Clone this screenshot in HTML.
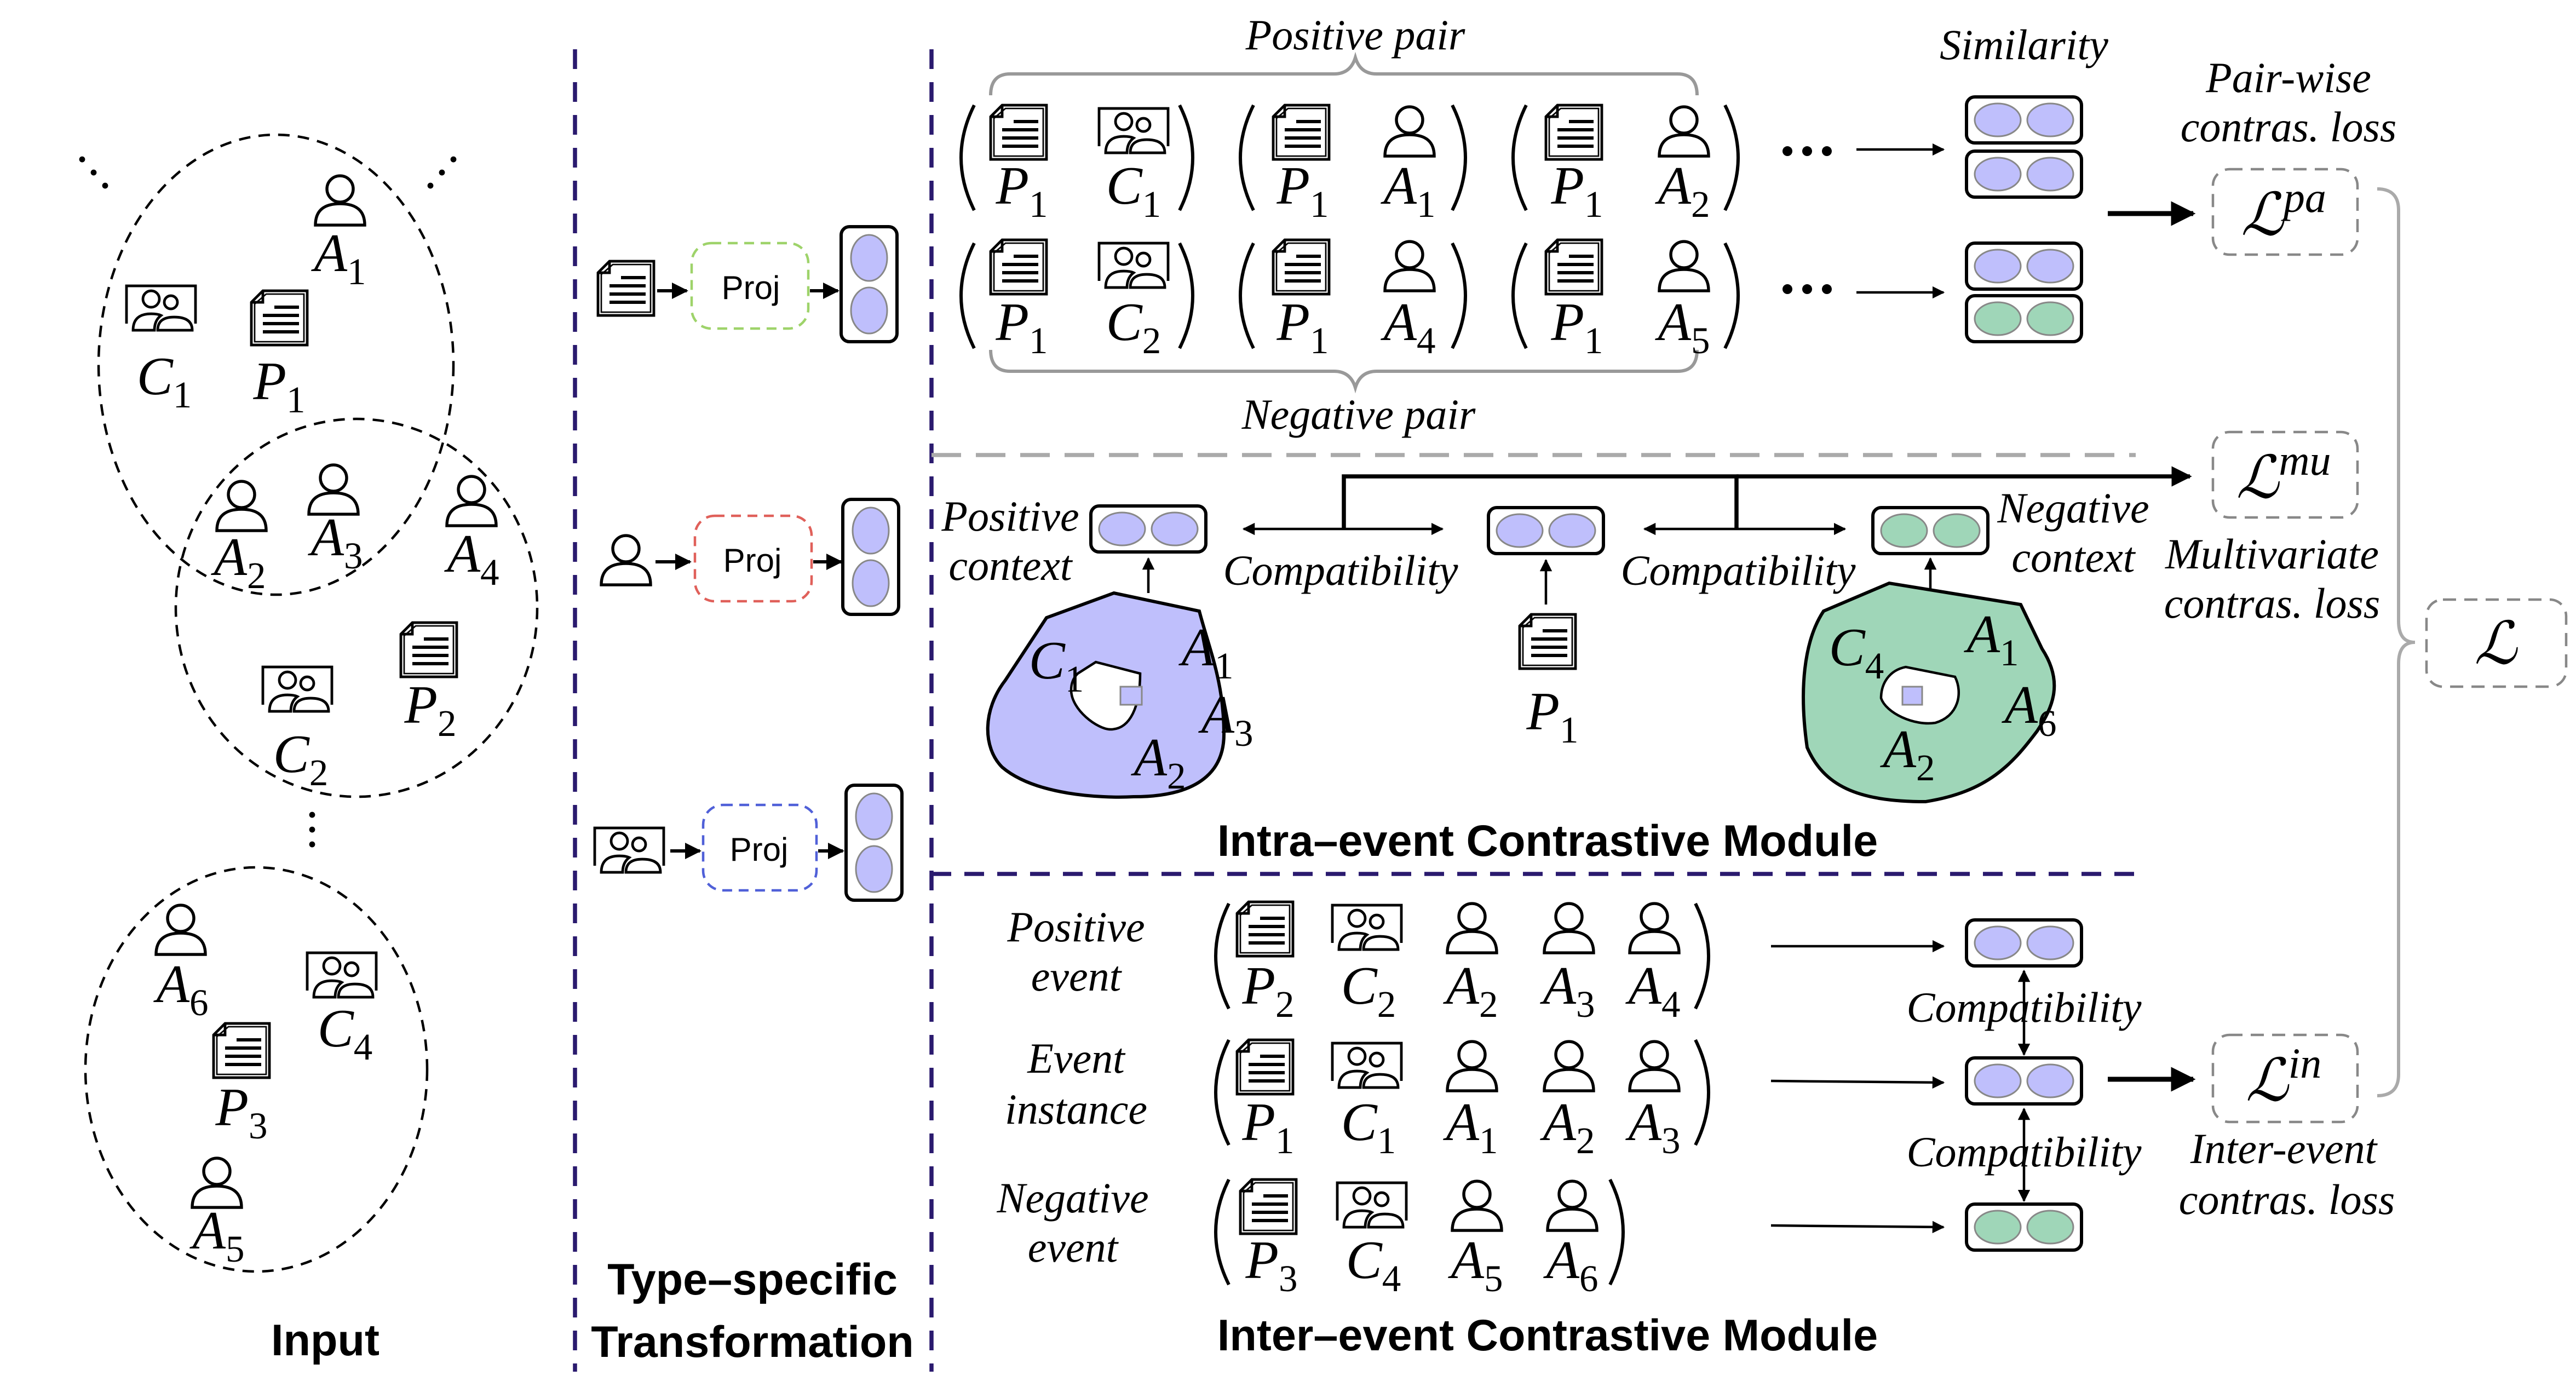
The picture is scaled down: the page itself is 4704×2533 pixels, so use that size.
<!DOCTYPE html>
<html><head><meta charset="utf-8"><style>
html,body{margin:0;padding:0;background:#fff;}
svg{display:block;}
.l{font-family:"Liberation Serif",serif;font-style:italic;font-size:33px;fill:#000;text-anchor:middle;}
.s{font-style:normal;font-size:23px;}
.t{font-family:"Liberation Serif",serif;font-style:italic;font-size:26px;fill:#000;text-anchor:middle;}
.b{font-family:"Liberation Sans",sans-serif;font-size:27px;font-weight:bold;fill:#000;text-anchor:middle;}
.pj{font-family:"Liberation Sans",sans-serif;font-size:20px;text-anchor:middle;}
.pr{fill:none;stroke:#000;stroke-width:2;}
</style></head><body>
<svg width="4704" height="2533" viewBox="0 0 1568 844.3" xmlns="http://www.w3.org/2000/svg">
<defs>
<g id="doc" fill="none" stroke="#000" stroke-width="1.6">
<path d="M-10,-16 H17 V17 H-17 V-9 Z"/><path d="M-8,-14 H15 V15 H-15 V-8 Z" stroke-width="0.9"/>
<path d="M-17,-9 L-10,-9 L-10,-16" /><path d="M-3,-6 H12 M-10,-1 H12 M-10,4 H12 M-10,9 H12" stroke-width="2"/>
</g>
<g id="per" fill="none" stroke="#000" stroke-width="1.8">
<circle cx="0" cy="-7" r="8"/><path d="M-15,15 Q-15,2 0,2 Q15,2 15,15 Z"/>
</g>
<g id="grp" fill="none" stroke="#000" stroke-width="1.6">
<path d="M-21,9 V-14 H21 V9"/><circle cx="-6" cy="-6" r="5"/><circle cx="6" cy="-4" r="4"/>
<path d="M-17,13 Q-17,3 -6,3 Q-2,3 0,4 Q-4,7 -4,13 Z"/><path d="M-2,13 Q-2,5 8,5 Q19,5 19,13 Z"/>
</g>
<g id="vp"><rect x="-35" y="-14" width="70" height="28" rx="5" fill="#fff" stroke="#000" stroke-width="2"/><ellipse cx="-16" cy="0" rx="14" ry="10" fill="#bfbffc" stroke="#888" stroke-width="1"/><ellipse cx="16" cy="0" rx="14" ry="10" fill="#bfbffc" stroke="#888" stroke-width="1"/></g>
<g id="vg"><rect x="-35" y="-14" width="70" height="28" rx="5" fill="#fff" stroke="#000" stroke-width="2"/><ellipse cx="-16" cy="0" rx="14" ry="10" fill="#9fd6b8" stroke="#888" stroke-width="1"/><ellipse cx="16" cy="0" rx="14" ry="10" fill="#9fd6b8" stroke="#888" stroke-width="1"/></g>
<g id="vv"><rect x="-17" y="-35" width="34" height="70" rx="5" fill="#fff" stroke="#000" stroke-width="2"/><ellipse cx="0" cy="-16" rx="11" ry="14" fill="#bfbffc" stroke="#888" stroke-width="1"/><ellipse cx="0" cy="16" rx="11" ry="14" fill="#bfbffc" stroke="#888" stroke-width="1"/></g>
<path id="lp" d="M8,-32 Q-8,0 8,32" class="pr"/>
<path id="rp" d="M-8,-32 Q8,0 -8,32" class="pr"/>
<marker id="arb" viewBox="0 0 10 10" refX="9" refY="5" markerWidth="5" markerHeight="5" orient="auto-start-reverse"><path d="M0,0 L10,5 L0,10 Z" fill="#000"/></marker>
</defs>

<g stroke="#2a1a6e" stroke-width="2.5" stroke-dasharray="12,8" fill="none">
<line x1="350" y1="30" x2="350" y2="835"/><line x1="567" y1="30" x2="567" y2="835"/>
<line x1="567" y1="532" x2="1300" y2="532"/></g>
<line x1="567" y1="277" x2="1300" y2="277" stroke="#aaa" stroke-width="2.5" stroke-dasharray="18,9"/>

<g fill="none" stroke="#000" stroke-width="1.5" stroke-dasharray="7,5">
<ellipse cx="168" cy="222" rx="108" ry="140"/><ellipse cx="217" cy="370" rx="110" ry="115"/><ellipse cx="156" cy="651" rx="104" ry="123"/></g>
<g fill="#000"><circle cx="50" cy="97" r="1.8"/><circle cx="57" cy="105" r="1.8"/><circle cx="64" cy="113" r="1.8"/>
<circle cx="262" cy="113" r="1.8"/><circle cx="269" cy="105" r="1.8"/><circle cx="276" cy="97" r="1.8"/>
<circle cx="190" cy="496" r="1.8"/><circle cx="190" cy="505" r="1.8"/><circle cx="190" cy="514" r="1.8"/></g>
<use href="#per" x="207" y="122"/><text x="207" y="165" class="l">A<tspan class="s" dy="8">1</tspan></text>
<use href="#grp" x="98" y="188"/><text x="100" y="240" class="l">C<tspan class="s" dy="8">1</tspan></text>
<use href="#doc" x="170" y="193"/><text x="170" y="243" class="l">P<tspan class="s" dy="8">1</tspan></text>
<use href="#per" x="147" y="308"/><text x="146" y="350" class="l">A<tspan class="s" dy="8">2</tspan></text>
<use href="#per" x="203" y="298"/><text x="205" y="338" class="l">A<tspan class="s" dy="8">3</tspan></text>
<use href="#per" x="287" y="305"/><text x="288" y="348" class="l">A<tspan class="s" dy="8">4</tspan></text>
<use href="#grp" x="181" y="420"/><text x="183" y="470" class="l">C<tspan class="s" dy="8">2</tspan></text>
<use href="#doc" x="261" y="395"/><text x="262" y="440" class="l">P<tspan class="s" dy="8">2</tspan></text>
<use href="#per" x="110" y="566"/><text x="111" y="610" class="l">A<tspan class="s" dy="8">6</tspan></text>
<use href="#grp" x="208" y="594"/><text x="210" y="637" class="l">C<tspan class="s" dy="8">4</tspan></text>
<use href="#doc" x="147" y="639"/><text x="147" y="685" class="l">P<tspan class="s" dy="8">3</tspan></text>
<use href="#per" x="132" y="720"/><text x="133" y="760" class="l">A<tspan class="s" dy="8">5</tspan></text>
<text x="198" y="825" class="b">Input</text>

<use href="#doc" x="381" y="175"/><line x1="400" y1="177" x2="418" y2="177" stroke="#000" stroke-width="2" marker-end="url(#arb)"/>
<rect x="421" y="148" width="71" height="52" rx="12" fill="none" stroke="#9ed36a" stroke-width="1.5" stroke-dasharray="6,4"/><text x="457" y="182" class="pj">Proj</text>
<line x1="493" y1="177" x2="510" y2="177" stroke="#000" stroke-width="2" marker-end="url(#arb)"/><use href="#vv" x="529" y="173"/>
<use href="#per" x="381" y="341"/><line x1="399" y1="342" x2="420" y2="342" stroke="#000" stroke-width="2" marker-end="url(#arb)"/>
<rect x="423" y="314" width="71" height="52" rx="12" fill="none" stroke="#e0605a" stroke-width="1.5" stroke-dasharray="6,4"/><text x="458" y="348" class="pj">Proj</text>
<line x1="495" y1="342" x2="512" y2="342" stroke="#000" stroke-width="2" marker-end="url(#arb)"/><use href="#vv" x="530" y="339"/>
<use href="#grp" x="383" y="518"/><line x1="408" y1="518" x2="426" y2="518" stroke="#000" stroke-width="2" marker-end="url(#arb)"/>
<rect x="428" y="490" width="69" height="52" rx="12" fill="none" stroke="#5060d8" stroke-width="1.5" stroke-dasharray="6,4"/><text x="462" y="524" class="pj">Proj</text>
<line x1="498" y1="518" x2="513" y2="518" stroke="#000" stroke-width="2" marker-end="url(#arb)"/><use href="#vv" x="532" y="513"/>
<text x="458" y="788" class="b">Type–specific</text><text x="458" y="826" class="b">Transformation</text>

<path d="M603,58 Q603,45 615,45 H812 Q822,45 825,35 Q828,45 838,45 H1021 Q1033,45 1033,58" fill="none" stroke="#999" stroke-width="2"/>
<path d="M603,213 Q603,226 615,226 H812 Q822,226 825,236 Q828,226 838,226 H1021 Q1033,226 1033,213" fill="none" stroke="#999" stroke-width="2"/>
<text x="825" y="30" class="t">Positive pair</text><text x="827" y="261" class="t">Negative pair</text>
<use href="#lp" x="585" y="96"/><use href="#rp" x="726" y="96"/><use href="#lp" x="755" y="96"/><use href="#rp" x="892" y="96"/><use href="#lp" x="921" y="96"/><use href="#rp" x="1058" y="96"/>
<use href="#lp" x="585" y="180"/><use href="#rp" x="726" y="180"/><use href="#lp" x="755" y="180"/><use href="#rp" x="892" y="180"/><use href="#lp" x="921" y="180"/><use href="#rp" x="1058" y="180"/>
<use href="#doc" x="620" y="80"/><text x="622" y="124" class="l">P<tspan class="s" dy="8">1</tspan></text>
<use href="#grp" x="690" y="80"/><text x="690" y="124" class="l">C<tspan class="s" dy="8">1</tspan></text>
<use href="#doc" x="792" y="80"/><text x="793" y="124" class="l">P<tspan class="s" dy="8">1</tspan></text>
<use href="#per" x="858" y="80"/><text x="858" y="124" class="l">A<tspan class="s" dy="8">1</tspan></text>
<use href="#doc" x="958" y="80"/><text x="960" y="124" class="l">P<tspan class="s" dy="8">1</tspan></text>
<use href="#per" x="1025" y="80"/><text x="1025" y="124" class="l">A<tspan class="s" dy="8">2</tspan></text>
<use href="#doc" x="620" y="162"/><text x="622" y="207" class="l">P<tspan class="s" dy="8">1</tspan></text>
<use href="#grp" x="690" y="162"/><text x="690" y="207" class="l">C<tspan class="s" dy="8">2</tspan></text>
<use href="#doc" x="792" y="162"/><text x="793" y="207" class="l">P<tspan class="s" dy="8">1</tspan></text>
<use href="#per" x="858" y="162"/><text x="858" y="207" class="l">A<tspan class="s" dy="8">4</tspan></text>
<use href="#doc" x="958" y="162"/><text x="960" y="207" class="l">P<tspan class="s" dy="8">1</tspan></text>
<use href="#per" x="1025" y="162"/><text x="1025" y="207" class="l">A<tspan class="s" dy="8">5</tspan></text>
<g fill="#000"><circle cx="1088" cy="92" r="3"/><circle cx="1100" cy="92" r="3"/><circle cx="1112" cy="92" r="3"/><circle cx="1088" cy="176" r="3"/><circle cx="1100" cy="176" r="3"/><circle cx="1112" cy="176" r="3"/></g>
<line x1="1130" y1="91" x2="1183" y2="91" stroke="#000" stroke-width="1.5" marker-end="url(#arb)"/>
<line x1="1130" y1="178" x2="1183" y2="178" stroke="#000" stroke-width="1.5" marker-end="url(#arb)"/>
<text x="1232" y="36" class="t">Similarity</text>
<use href="#vp" x="1232" y="73"/><use href="#vp" x="1232" y="106"/>
<use href="#vp" x="1232" y="162"/><use href="#vg" x="1232" y="194"/>
<text x="1393" y="56" class="t">Pair-wise</text><text x="1393" y="86" class="t">contras. loss</text>
<line x1="1283" y1="130" x2="1335" y2="130" stroke="#000" stroke-width="3" marker-end="url(#arb)"/>

<g fill="none" stroke="#888" stroke-width="1.5" stroke-dasharray="8,5">
<rect x="1347" y="103" width="88" height="52" rx="10"/><rect x="1347" y="263" width="88" height="52" rx="10"/><rect x="1347" y="630" width="88" height="53" rx="10"/><rect x="1477" y="365" width="85" height="53" rx="10"/></g>
<text x="1390" y="143" class="l" style="font-size:36px">ℒ<tspan dy="-14" style="font-size:26px">pa</tspan></text>
<text x="1390" y="303" class="l" style="font-size:36px">ℒ<tspan dy="-14" style="font-size:26px">mu</tspan></text>
<text x="1390" y="670" class="l" style="font-size:36px">ℒ<tspan dy="-14" style="font-size:26px">in</tspan></text>
<text x="1519" y="404" class="l" style="font-size:36px">ℒ</text>
<path d="M1447,115 Q1460,115 1460,128 V378 Q1460,391 1470,391 Q1460,391 1460,404 V654 Q1460,667 1447,667" fill="none" stroke="#aaa" stroke-width="2"/>

<polyline points="818,322 818,290 1057,290 1057,322" fill="none" stroke="#000" stroke-width="2.5"/>
<line x1="1057" y1="290" x2="1333" y2="290" stroke="#000" stroke-width="2.5" marker-end="url(#arb)"/>
<use href="#vp" x="699" y="322"/><use href="#vp" x="941" y="323"/><use href="#vg" x="1175" y="323"/>
<line x1="757" y1="322" x2="878" y2="322" stroke="#000" stroke-width="1.5" marker-start="url(#arb)" marker-end="url(#arb)"/>
<line x1="1001" y1="322" x2="1123" y2="322" stroke="#000" stroke-width="1.5" marker-start="url(#arb)" marker-end="url(#arb)"/>
<text x="615" y="323" class="t">Positive</text><text x="615" y="353" class="t">context</text>
<text x="816" y="356" class="t">Compatibility</text><text x="1058" y="356" class="t">Compatibility</text>
<text x="1262" y="318" class="t">Negative</text><text x="1262" y="348" class="t">context</text>
<text x="1383" y="346" class="t">Multivariate</text><text x="1383" y="376" class="t">contras. loss</text>
<line x1="699" y1="361" x2="699" y2="340" stroke="#000" stroke-width="1.5" marker-end="url(#arb)"/>
<line x1="941" y1="368" x2="941" y2="341" stroke="#000" stroke-width="1.5" marker-end="url(#arb)"/>
<line x1="1175" y1="360" x2="1175" y2="340" stroke="#000" stroke-width="1.5" marker-end="url(#arb)"/>
<path d="M678,361 L637,376 L612,414 C598,432 598,455 610,467 C630,484 670,486 690,485 C735,485 745,465 745,447 C745,415 736,395 730,372 Z" fill="#bfbffc" stroke="#000" stroke-width="2"/>
<path d="M667,403 L694,410 C694,430 688,444 676,444 C668,444 652,432 652,420 C652,415 654,412 656,410 Z" fill="#fff" stroke="#000" stroke-width="1.5"/>
<rect x="682" y="418" width="13" height="11" fill="#bfbffc" stroke="#888" stroke-width="1"/>
<text x="643" y="413" class="l">C<tspan class="s" dy="8">1</tspan></text><text x="735" y="405" class="l">A<tspan class="s" dy="8">1</tspan></text>
<text x="747" y="446" class="l">A<tspan class="s" dy="8">3</tspan></text><text x="706" y="472" class="l">A<tspan class="s" dy="8">2</tspan></text>
<use href="#doc" x="942" y="390"/><text x="945" y="444" class="l">P<tspan class="s" dy="8">1</tspan></text>
<path d="M1150,355 L1110,372 C1098,390 1095,420 1100,455 C1110,478 1130,488 1172,488 C1210,482 1225,465 1240,445 C1250,430 1256,415 1243,395 L1230,368 Z" fill="#9fd6b8" stroke="#000" stroke-width="2"/>
<path d="M1160,406 L1190,412 C1195,422 1192,436 1178,440 C1165,442 1148,434 1145,425 C1145,416 1150,408 1160,406 Z" fill="#fff" stroke="#000" stroke-width="1.5"/>
<rect x="1158" y="418" width="12" height="11" fill="#bfbffc" stroke="#888" stroke-width="1"/>
<text x="1130" y="405" class="l">C<tspan class="s" dy="8">4</tspan></text><text x="1213" y="397" class="l">A<tspan class="s" dy="8">1</tspan></text>
<text x="1236" y="440" class="l">A<tspan class="s" dy="8">6</tspan></text><text x="1162" y="467" class="l">A<tspan class="s" dy="8">2</tspan></text>
<text x="942" y="521" class="b">Intra–event Contrastive Module</text>

<text x="655" y="573" class="t">Positive</text><text x="655" y="603" class="t">event</text>
<text x="655" y="653" class="t">Event</text><text x="655" y="684" class="t">instance</text>
<text x="653" y="738" class="t">Negative</text><text x="653" y="768" class="t">event</text>
<use href="#lp" x="740" y="582"/><use href="#rp" x="1040" y="582"/>
<use href="#lp" x="740" y="665"/><use href="#rp" x="1040" y="665"/>
<use href="#lp" x="740" y="750"/><use href="#rp" x="988" y="750"/>
<use href="#doc" x="770" y="565"/><text x="772" y="611" class="l">P<tspan class="s" dy="8">2</tspan></text>
<use href="#grp" x="832" y="565"/><text x="833" y="611" class="l">C<tspan class="s" dy="8">2</tspan></text>
<use href="#per" x="896" y="565"/><text x="896" y="611" class="l">A<tspan class="s" dy="8">2</tspan></text>
<use href="#per" x="955" y="565"/><text x="955" y="611" class="l">A<tspan class="s" dy="8">3</tspan></text>
<use href="#per" x="1007" y="565"/><text x="1007" y="611" class="l">A<tspan class="s" dy="8">4</tspan></text>
<use href="#doc" x="770" y="649"/><text x="772" y="694" class="l">P<tspan class="s" dy="8">1</tspan></text>
<use href="#grp" x="832" y="649"/><text x="833" y="694" class="l">C<tspan class="s" dy="8">1</tspan></text>
<use href="#per" x="896" y="649"/><text x="896" y="694" class="l">A<tspan class="s" dy="8">1</tspan></text>
<use href="#per" x="955" y="649"/><text x="955" y="694" class="l">A<tspan class="s" dy="8">2</tspan></text>
<use href="#per" x="1007" y="649"/><text x="1007" y="694" class="l">A<tspan class="s" dy="8">3</tspan></text>
<use href="#doc" x="772" y="734"/><text x="774" y="778" class="l">P<tspan class="s" dy="8">3</tspan></text>
<use href="#grp" x="835" y="734"/><text x="836" y="778" class="l">C<tspan class="s" dy="8">4</tspan></text>
<use href="#per" x="899" y="734"/><text x="899" y="778" class="l">A<tspan class="s" dy="8">5</tspan></text>
<use href="#per" x="957" y="734"/><text x="957" y="778" class="l">A<tspan class="s" dy="8">6</tspan></text>
<line x1="1078" y1="576" x2="1183" y2="576" stroke="#000" stroke-width="1.5" marker-end="url(#arb)"/>
<line x1="1078" y1="658" x2="1183" y2="659" stroke="#000" stroke-width="1.5" marker-end="url(#arb)"/>
<line x1="1078" y1="746" x2="1183" y2="747" stroke="#000" stroke-width="1.5" marker-end="url(#arb)"/>
<use href="#vp" x="1232" y="574"/><use href="#vp" x="1232" y="658"/><use href="#vg" x="1232" y="747"/>
<line x1="1232" y1="591" x2="1232" y2="642" stroke="#000" stroke-width="1.5" marker-start="url(#arb)" marker-end="url(#arb)"/>
<line x1="1232" y1="675" x2="1232" y2="731" stroke="#000" stroke-width="1.5" marker-start="url(#arb)" marker-end="url(#arb)"/>
<text x="1232" y="622" class="t">Compatibility</text><text x="1232" y="710" class="t">Compatibility</text>
<line x1="1283" y1="657" x2="1335" y2="657" stroke="#000" stroke-width="3" marker-end="url(#arb)"/>
<text x="1390" y="708" class="t">Inter-event</text><text x="1392" y="739" class="t">contras. loss</text>
<text x="942" y="822" class="b">Inter–event Contrastive Module</text>
</svg>
</body></html>
